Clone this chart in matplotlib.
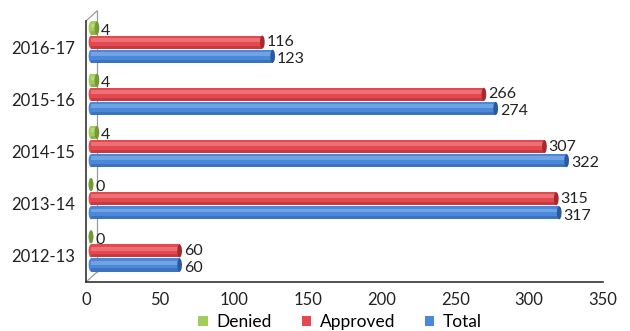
import numpy as np
import matplotlib.pyplot as plt
from matplotlib.patches import Ellipse
from matplotlib.transforms import ScaledTranslation

years = ["2012-13", "2013-14", "2014-15", "2015-16", "2016-17"]
denied = [0, 0, 4, 4, 4]
approved = [60, 315, 307, 266, 116]
total = [60, 317, 322, 274, 123]

series = [
    ("Denied", denied, 0.27, "#a3cc5a", "#6f9a34"),
    ("Approved", approved, 0.0, "#e5484f", "#a52a30"),
    ("Total", total, -0.27, "#4a88da", "#2a5a9c"),
]
bar_h = 0.25

plt.rcParams['font.family'] = ['Lato', 'DejaVu Sans']

fig = plt.figure(figsize=(6.3, 3.31), dpi=100)
ax = fig.add_axes([0.1365, 0.148, 0.8206, 0.7885])

# pseudo-3d: bars sit a little behind the front axis plane
shift = ax.transData + ScaledTranslation(0.05, 0.05, fig.dpi_scale_trans)
cap_w = 3.2

y = np.arange(len(years))
for name, vals, off, col, dark in series:
    ax.barh(y + off, vals, height=bar_h, color=col, transform=shift,
            label=name, zorder=3)
    # lighter band on top and darker band below for a cylinder look
    ax.barh(y + off + bar_h * 0.18, vals, height=bar_h * 0.3, color="white",
            alpha=0.22, transform=shift, zorder=4, linewidth=0)
    ax.barh(y + off - bar_h * 0.38, vals, height=bar_h * 0.24, color=dark,
            alpha=0.45, transform=shift, zorder=4, linewidth=0)
    for yi, v in zip(y, vals):
        ax.add_patch(Ellipse((v, yi + off), cap_w, bar_h, facecolor=dark,
                             edgecolor="none", transform=shift, zorder=5))
        ax.add_patch(Ellipse((0, yi + off), cap_w, bar_h, facecolor=col,
                             edgecolor="none", transform=shift, zorder=2))
        dy = 0 if name == "Approved" else -2
        ax.annotate(str(v), (v, yi + off), xycoords=shift,
                    xytext=(3, dy), textcoords="offset points",
                    ha="left", va="center", fontsize=11.5, color="#222222",
                    zorder=6)

ax.set_xlim(0, 350)
ax.set_ylim(-0.5, 4.5)
ax.set_xticks(range(0, 351, 50))
ax.set_yticks(y)
ax.set_yticklabels(years)
ax.tick_params(axis="both", length=0, labelsize=12, colors="#222222")
ax.tick_params(axis="x", pad=7)
ax.tick_params(axis="y", pad=8)

for s in ["top", "right"]:
    ax.spines[s].set_visible(False)
for s in ["left", "bottom"]:
    ax.spines[s].set_color("#333333")
    ax.spines[s].set_linewidth(1.2)

# back wall edges
off_x, off_y = 0.11, 0.10
wall = ax.transAxes + ScaledTranslation(off_x, off_y, fig.dpi_scale_trans)
ax.plot([0, 0], [0, 1], color="#9a9a9a", lw=0.9, transform=wall,
        clip_on=False, zorder=1)
for yy in (0, 1):
    pts = ax.transAxes.transform([(0, yy)])[0]
    fx0, fy0 = fig.dpi_scale_trans.inverted().transform(pts)
    ax.plot([fx0, fx0 + off_x], [fy0, fy0 + off_y], color="#9a9a9a", lw=0.9,
            transform=fig.dpi_scale_trans, clip_on=False, zorder=1)

handles, labels = ax.get_legend_handles_labels()
fig.legend(handles, labels, loc="center", bbox_to_anchor=(0.54, 0.027),
           ncol=3, frameon=False, fontsize=12.5, handlelength=0.55,
           handleheight=0.55, handletextpad=0.5, columnspacing=1.7)

fig.savefig("out.png", dpi=100)
